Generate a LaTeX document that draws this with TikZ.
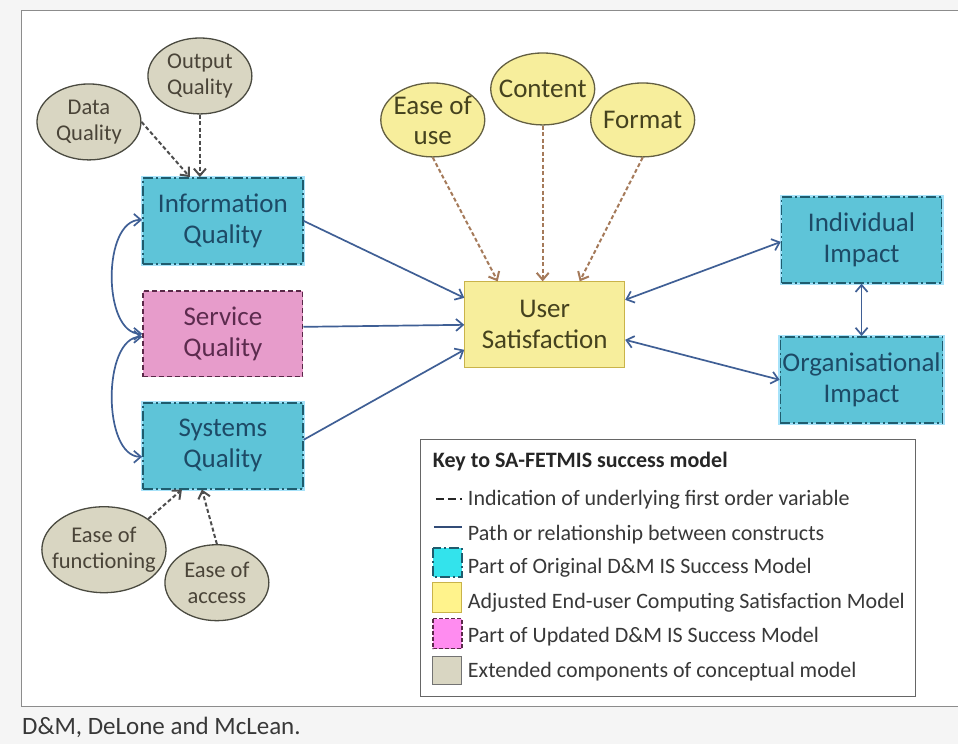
\documentclass[tikz,border=0pt]{standalone}
\usepackage{xcolor}
\usepackage{fontspec}
\setmainfont{Carlito}
\usepackage{tikz}
\usetikzlibrary{arrows.meta,shapes.geometric}

\definecolor{origfill}{HTML}{5EC4D8}
\definecolor{origline}{HTML}{1F5C6E}
\definecolor{origtext}{HTML}{1D4A66}
\definecolor{updfill}{HTML}{E79CCB}
\definecolor{updline}{HTML}{5A2848}
\definecolor{updtext}{HTML}{5C2B4E}
\definecolor{adjfill}{HTML}{F7EE9C}
\definecolor{adjline}{HTML}{C9B34A}
\definecolor{adjtext}{HTML}{45421E}
\definecolor{extfill}{HTML}{D9D6C2}
\definecolor{extline}{HTML}{4A4A40}
\definecolor{exttext}{HTML}{4A4438}
\definecolor{pathblue}{HTML}{3F5F95}
\definecolor{indbrown}{HTML}{A57A5A}
\definecolor{indgrey}{HTML}{4D4D4D}
\definecolor{keytext}{HTML}{383838}
\definecolor{keycyan}{HTML}{33E3EC}
\definecolor{keypink}{HTML}{FF8CF0}
\definecolor{keyyellow}{HTML}{FFF38C}

\tikzset{
	construct/.style={rectangle, minimum width=160pt, minimum height=86pt, align=center, inner sep=2pt, font=\fontsize{27}{31}\selectfont},
	orig/.style={construct, fill=origfill, draw=origline, line width=1.6pt, dash pattern=on 10pt off 3pt on 2pt off 3pt, text=origtext,
		preaction={draw=cyan!35, line width=4pt, solid}},
	upd/.style={construct, fill=updfill, draw=updline, line width=1.3pt, dash pattern=on 5pt off 3pt, text=updtext},
	adj/.style={construct, fill=adjfill, draw=adjline, line width=1pt, text=adjtext},
	extvar/.style={ellipse, fill=extfill, draw=extline, line width=1.3pt, align=center, inner xsep=-8pt, inner ysep=0pt,
		minimum width=104pt, minimum height=76pt, text=exttext, font=\fontsize{22.5}{26}\selectfont},
	csvar/.style={ellipse, fill=adjfill, draw=extline!80!adjline, line width=1.3pt, align=center, inner xsep=-8pt, inner ysep=0pt,
		minimum width=104pt, minimum height=74pt, text=adjtext, font=\fontsize{27}{30}\selectfont},
	pathline/.style={draw=pathblue, line width=1.7pt, -{Straight Barb[length=7pt,width=12pt]}},
	pathboth/.style={pathline, {Straight Barb[length=7pt,width=12pt]}-{Straight Barb[length=7pt,width=12pt]}},
	indline/.style={line width=2pt, dash pattern=on 4pt off 2.5pt, -{Straight Barb[length=7pt,width=12pt]}},
	keyitem/.style={anchor=west, inner sep=0pt, text=keytext, font=\fontsize{22}{26}\selectfont},
}

\begin{document}
\begin{tikzpicture}[x=1pt, y=-1pt]
	% page and frame
	\fill[black!4] (0,0) rectangle (958,744);
	\fill[white] (22,11) rectangle (958,707);
	\draw[black!45, line width=1pt] (958,11) -- (22,11) -- (22,707) -- (958,707);
	\useasboundingbox (0,0) rectangle (958,744);

	% constructs
	\node[orig] at (223,221) (info){Information\\Quality};
	\node[upd] at (223,334) (serv){Service\\Quality};
	\node[orig] at (223,446) (sys){Systems\\Quality};
	\node[adj] at (545,325) (us){User\\Satisfaction};
	\node[orig] at (862,240) (ind){Individual\\Impact};
	\node[orig] at (862,380) (org){Organisational\\Impact};

	% first order variables
	\node[extvar] at (200,76) (oq){Output\\Quality};
	\node[extvar] at (89,122) (dq){Data\\Quality};
	\node[extvar, minimum width=122pt, minimum height=86pt] at (104,550) (efn){Ease of\\functioning};
	\node[extvar] at (217,583) (eacc){Ease of\\access};
	\node[csvar] at (433,120) (eou){Ease of\\use};
	\node[csvar, minimum height=72pt] at (543,89) (cont){Content};
	\node[csvar] at (643,120) (fmt){Format};

	% paths
	\draw[pathline] (info.east) -- ([yshift=27pt]us.west);
	\draw[pathline] ([yshift=7pt]serv.east) -- (us.west);
	\draw[pathline] ([yshift=6pt]sys.east) -- ([yshift=-25pt]us.west);
	\draw[pathboth] ([yshift=25pt]us.east) -- ([yshift=-2pt]ind.west);
	\draw[pathboth] ([yshift=-15pt]us.east) -- (org.west);
	\draw[pathboth] (ind.south) -- (org.north);
	\draw[pathboth] ([yshift=1pt]info.west) .. controls +(-40,0) and +(-40,0) .. (serv.west);
	\draw[pathboth] ([yshift=-3pt]serv.west) .. controls +(-40,0) and +(-40,0) .. ([yshift=-11pt]sys.west);

	% indications
	\draw[indline, indgrey] (dq.east) -- ([xshift=-33pt]info.north);
	\draw[indline, indgrey] (oq.south) -- (oq.south |- info.north);
	\draw[indline, indgrey] (efn.north east) -- ([xshift=-41pt]sys.south);
	\draw[indline, indgrey] (eacc.north) -- ([xshift=-21pt]sys.south);
	\draw[indline, indbrown] (eou.south) -- ([xshift=-47pt]us.north);
	\draw[indline, indbrown] (cont.south) -- (cont.south |- us.north);
	\draw[indline, indbrown] (fmt.south) -- ([xshift=35pt]us.north);

	% key
	\node[draw=black!60, line width=1pt, fill=white, minimum width=495pt, minimum height=257pt] at (668.5,568.5) (key){};
	\node[keyitem, font=\bfseries\fontsize{22}{26}\selectfont, text=black!85] at (433,462) (keytitle){Key to SA-FETMIS success model};
	\draw[black!85, line width=2pt, dash pattern=on 8pt off 4pt] (436,499) -- (462,499);
	\draw[pathblue!80!black, line width=2pt] (434,527) -- (462,527);
	\fill[keycyan] (433,548) rectangle (462,577);
	\draw[origline, line width=1.6pt, dash pattern=on 10pt off 3pt on 2pt off 3pt] (433,548) rectangle (462,577);
	\draw[fill=keyyellow, draw=adjline, line width=1pt] (433,583) rectangle (462,613);
	\draw[fill=keypink, draw=updline, line width=1.6pt, dash pattern=on 4pt off 2pt] (433,619) rectangle (462,649);
	\draw[fill=extfill, draw=black!55, line width=1pt] (433,657) rectangle (462,685);
	\node[keyitem] at (468,500) (k1){Indication of underlying first order variable};
	\node[keyitem] at (468,535) (k2){Path or relationship between constructs};
	\node[keyitem] at (468,568) (k3){Part of Original D\&M IS Success Model};
	\node[keyitem] at (468,603) (k4){Adjusted End-user Computing Satisfaction Model};
	\node[keyitem] at (468,637) (k5){Part of Updated D\&M IS Success Model};
	\node[keyitem] at (468,672) (k6){Extended components of conceptual model};

	% caption
	\node[anchor=west, inner sep=0pt, text=keytext, font=\fontsize{25}{29}\selectfont] at (22,728) (cap){D\&M, DeLone and McLean.};
\end{tikzpicture}
\end{document}
